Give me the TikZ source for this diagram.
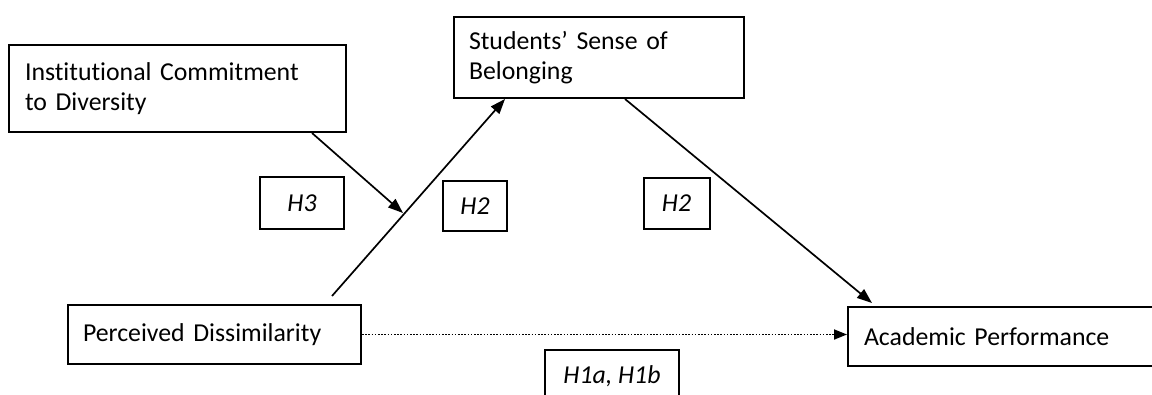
\documentclass[tikz,border=0pt]{standalone}
\usepackage{fontspec}
\setmainfont{Carlito}[Ligatures=NoCommon]
\usetikzlibrary{arrows.meta}
\begin{document}
\begin{tikzpicture}[x=1pt,y=-1pt,
  box/.style={draw=black,line width=2pt,rectangle,inner ysep=0pt,
    font=\fontsize{25.8}{30.5}\selectfont,align=left},
  hyp/.style={draw=black,line width=2pt,rectangle,inner sep=0pt,
    font=\fontsize{25.8}{30.5}\selectfont\itshape,align=center},
  arr/.style={line width=1.7pt,-{Triangle[length=15pt,width=11pt]}},
  dotarr/.style={line width=1.8pt,dash pattern=on 1.6pt off 1.6pt,-{Triangle[length=13pt,width=10pt]}}
]
\clip (0,0) rectangle (1152,394);
\fill[white] (0,0) rectangle (1152,394);
% main boxes
\node[box,inner xsep=16pt,text width=305pt,minimum height=87pt] (inst) at (177.5,88.5)
  {Institutional Commitment\\to Diversity};
\node[box,inner xsep=15pt,text width=260pt,minimum height=81pt] (stud) at (599,57.5)
  {Students’ Sense of\\Belonging};
\node[box,inner xsep=15pt,text width=263pt,minimum height=59pt] (pd) at (214.5,334.5)
  {Perceived Dissimilarity};
\node[box,inner xsep=16pt,text width=280pt,minimum height=59pt] (acad) at (1004,336.5)
  {Academic Performance};
% hypothesis labels
\node[hyp,minimum width=84pt,minimum height=52pt] (h3) at (302,203) {H3};
\node[hyp,minimum width=64pt,minimum height=50pt] (h2a) at (475,206) {H2};
\node[hyp,minimum width=66pt,minimum height=51pt] (h2b) at (676.5,203.5) {H2};
\node[hyp,minimum width=134pt,minimum height=52pt] (h1) at (612,376) {H1a, H1b};
% connectors
\coordinate (mod) at (403,213);
\draw[arr] ([xshift=134.5pt]inst.south) -- (mod);
\draw[arr] ([xshift=117.5pt,yshift=8pt]pd.north) -- ([xshift=-94pt]stud.south);
\draw[arr] ([xshift=26pt]stud.south) -- ([xshift=-132pt,yshift=3pt]acad.north);
\draw[dotarr] (pd.east) -- (pd.east -| acad.west);
\end{tikzpicture}
\end{document}
